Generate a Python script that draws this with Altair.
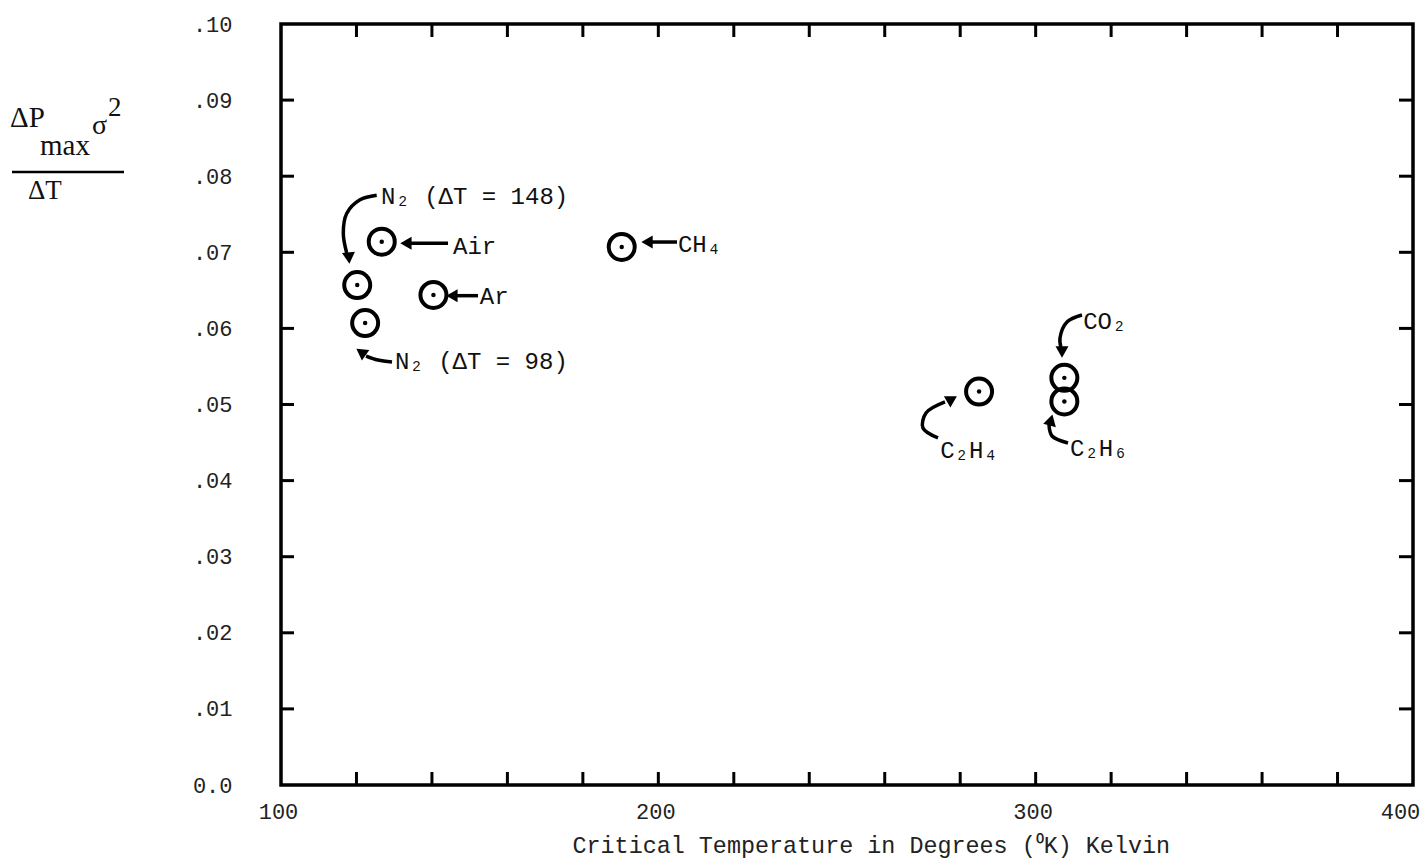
import altair as alt
import pandas as pd

# ---------------- data ----------------
GAS = ["N2 (dT=148)", "N2 (dT=98)", "Air", "Ar", "CH4", "C2H4", "CO2", "C2H6"]
TC = [120.2, 122.3, 126.7, 140.4, 190.3, 285.0, 307.6, 307.6]
RATIO = [0.0657, 0.0607, 0.0714, 0.0644, 0.0707, 0.0517, 0.0535, 0.0504]

LABEL_TEXT = ["N₂ (ΔT = 148)", "Air", "Ar", "N₂ (ΔT = 98)", "CH₄", "CO₂", "C₂H₄", "C₂H₆"]
LABEL_X = [126.5, 145.6, 152.7, 130.2, 205.2, 312.6, 274.7, 309.1]
LABEL_Y = [0.0773, 0.0707, 0.0641, 0.0556, 0.0710, 0.0608, 0.0439, 0.0442]

# curved arrow paths (data units)
ARROW_ID = [1, 1, 1, 1, 1, 2, 2, 3, 3, 4, 4, 4, 5, 5, 6, 6, 6, 6, 7, 7, 7, 7, 8, 8, 8]
ARROW_ORD = [0, 1, 2, 3, 4, 0, 1, 0, 1, 0, 1, 2, 0, 1, 0, 1, 2, 3, 0, 1, 2, 3, 0, 1, 2]
ARROW_X = [125.36, 120.94, 117.41, 116.51, 117.41,
           144.26, 134.19,
           152.21, 146.11,
           129.42, 125.71, 122.53,
           204.95, 197.79,
           312.28, 308.30, 306.45, 306.71,
           274.12, 270.14, 270.94, 275.97,
           308.57, 304.33, 303.53]
ARROW_Y = [0.0775, 0.0769, 0.0751, 0.0725, 0.0699,
           0.0712, 0.0712,
           0.0643, 0.0643,
           0.05558, 0.05585, 0.05637,
           0.07135, 0.07135,
           0.06176, 0.06084, 0.05874, 0.05743,
           0.04560, 0.04691, 0.04888, 0.05033,
           0.04494, 0.04586, 0.04731]

HEAD_X = [118.0, 133.1, 145.3, 121.2, 197.0, 306.98, 277.83, 304.06]
HEAD_Y = [0.06925, 0.0712, 0.0643, 0.0569, 0.07135, 0.0569, 0.05072, 0.04796]
HEAD_ANGLE = [175, 270, 270, 305, 270, 180, 60, 15]

X_TICKS = [120, 140, 160, 180, 200, 220, 240, 260, 280, 300, 320, 340, 360, 380]
Y_TICKS = [0.01, 0.02, 0.03, 0.04, 0.05, 0.06, 0.07, 0.08, 0.09]
X_LABELS = [100, 200, 300, 400]
Y_LABELS = [0.0, 0.01, 0.02, 0.03, 0.04, 0.05, 0.06, 0.07, 0.08, 0.09, 0.10]

X_TITLE = "Critical Temperature in Degrees (⁰K) Kelvin"

# ---------------- tables ----------------
pts = pd.DataFrame({"gas": GAS, "tc": TC, "r": RATIO})
labels = pd.DataFrame({"t": LABEL_TEXT, "tc": LABEL_X, "r": LABEL_Y})
arrows = pd.DataFrame({"id": ARROW_ID, "o": ARROW_ORD, "tc": ARROW_X, "r": ARROW_Y})
heads = pd.DataFrame({"tc": HEAD_X, "r": HEAD_Y, "a": HEAD_ANGLE})
xt = pd.DataFrame({"tc": X_TICKS})
yt = pd.DataFrame({"r": Y_TICKS})
one = pd.DataFrame({"a": [0]})

W, H = 1132, 761
MONO = "Liberation Mono"
SERIF = "Liberation Serif"

XSCALE = alt.Scale(domain=[100, 400], nice=False, zero=False)
YSCALE = alt.Scale(domain=[0, 0.10], nice=False, zero=False)

XAXIS = alt.Axis(
    values=X_LABELS, ticks=False, domain=False, grid=False, labelFlush=False,
    labelFont=MONO, labelFontSize=22, labelColor="#222", labelPadding=16,
    labelOffset={"condition": {"test": "datum.value == 400", "value": -13}, "value": -3},
    title=X_TITLE, titleFont=MONO, titleFontSize=23.4, titleFontWeight="normal",
    titleColor="#222", titleX=291, titleY=60, titleAlign="left", titleBaseline="middle",
)
YAXIS = alt.Axis(
    values=Y_LABELS, ticks=False, domain=False, grid=False, labelFlush=False,
    labelFont=MONO, labelFontSize=22, labelColor="#222", labelPadding=49,
    labelAlign="right", labelBaseline="middle",
    labelExpr="datum.value == 0 ? '0.0' : replace(format(datum.value, '.2f'), '0.', '.')",
    title=None,
)


def X(f="tc"):
    return alt.X(f + ":Q", scale=XSCALE, axis=XAXIS)


def Y(f="r"):
    return alt.Y(f + ":Q", scale=YSCALE, axis=YAXIS)


circles = alt.Chart(pts).mark_point(
    shape="circle", filled=False, size=676, stroke="black", strokeWidth=4, opacity=1
).encode(x=X(), y=Y())

dots = alt.Chart(pts).mark_point(
    shape="circle", filled=True, size=20, color="black", opacity=1
).encode(x=X(), y=Y())

texts = alt.Chart(labels).mark_text(
    font=MONO, fontSize=24, align="left", baseline="middle", color="#111"
).encode(x=X(), y=Y(), text="t:N")

arrow_lines = alt.Chart(arrows).mark_line(
    color="black", strokeWidth=3.5, interpolate="catmull-rom"
).encode(x=X(), y=Y(), detail="id:N", order="o:Q")

arrow_heads = alt.Chart(heads).mark_point(
    shape="triangle-up", filled=True, size=170, color="black", opacity=1
).encode(x=X(), y=Y(), angle=alt.Angle("a:Q", scale=None))

tick_bottom = alt.Chart(xt).mark_rule(color="black", strokeWidth=3).encode(
    x=X(), y=alt.value(H), y2=alt.value(H - 13))
tick_top = alt.Chart(xt).mark_rule(color="black", strokeWidth=3).encode(
    x=X(), y=alt.value(0), y2=alt.value(13))
tick_left = alt.Chart(yt).mark_rule(color="black", strokeWidth=3).encode(
    y=Y(), x=alt.value(0), x2=alt.value(13))
tick_right = alt.Chart(yt).mark_rule(color="black", strokeWidth=3).encode(
    y=Y(), x=alt.value(W), x2=alt.value(W - 14))

# y-axis title drawn as a fraction
t_dp = alt.Chart(one).mark_text(text="ΔP", font=SERIF, fontSize=29, align="left",
                                baseline="middle", color="#111").encode(
    x=alt.value(-271), y=alt.value(94))
t_max = alt.Chart(one).mark_text(text="max", font=SERIF, fontSize=29, align="left",
                                 baseline="middle", color="#111").encode(
    x=alt.value(-241), y=alt.value(122))
t_sig = alt.Chart(one).mark_text(text="σ", font=SERIF, fontSize=28, align="left",
                                 baseline="middle", color="#111").encode(
    x=alt.value(-189), y=alt.value(102))
t_two = alt.Chart(one).mark_text(text="2", font=SERIF, fontSize=27, align="left",
                                 baseline="middle", color="#111").encode(
    x=alt.value(-173), y=alt.value(84))
t_bar = alt.Chart(one).mark_rule(color="black", strokeWidth=2.5).encode(
    x=alt.value(-269), x2=alt.value(-157), y=alt.value(148))
t_dt = alt.Chart(one).mark_text(text="ΔT", font=SERIF, fontSize=27, align="left",
                                baseline="middle", color="#111").encode(
    x=alt.value(-253), y=alt.value(167))

chart = alt.layer(
    tick_bottom, tick_top, tick_left, tick_right,
    arrow_lines, arrow_heads, circles, dots, texts,
    t_dp, t_max, t_sig, t_two, t_bar, t_dt,
).properties(
    width=W, height=H,
    autosize=alt.AutoSizeParams(type="none"),
    padding={"left": 281, "top": 24, "right": 9, "bottom": 80},
    background="white",
).configure_view(
    stroke="black", strokeWidth=3.5
)

chart.save("out.html", embed_options={"renderer": "svg", "actions": False})
